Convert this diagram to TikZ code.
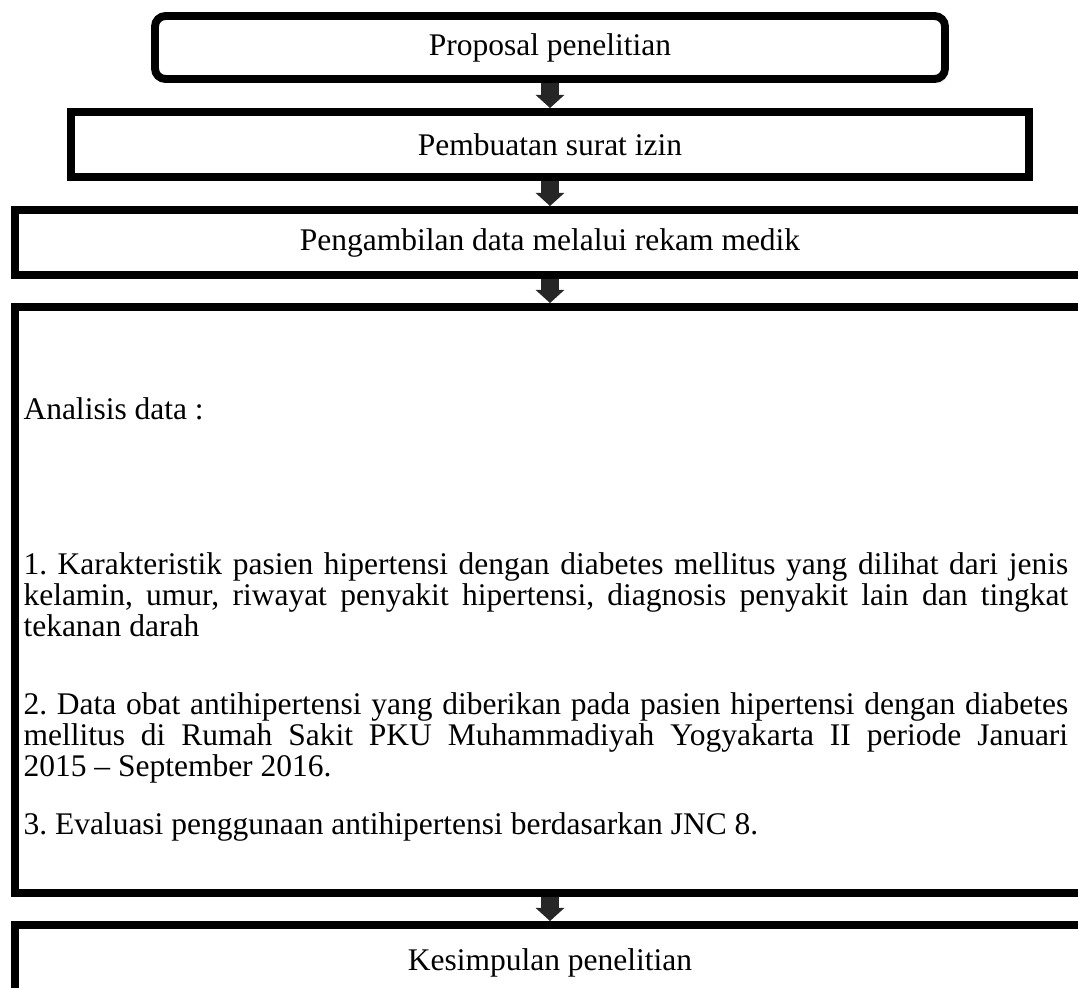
\documentclass[tikz,border=0pt]{standalone}
\usepackage{fontspec}
\setmainfont{Liberation Serif}
\usetikzlibrary{arrows.meta,shadows}
\frenchspacing

\begin{document}
\begin{tikzpicture}[
    x=0.381pt, y=-0.381pt,
    kotak/.style={rectangle, draw, line width=3pt, fill=white, text centered, font=\fontsize{12}{13.8}\selectfont,
      drop shadow={shadow xshift=1.2pt, shadow yshift=-1.5pt, opacity=0.2}},
    panah/.style={-{Triangle[width=10.7pt,length=5pt]}, line width=6.9pt, draw=black!85},
    isi/.style={anchor=north west, inner sep=0pt, text width=398pt, align=justify, font=\fontsize{12}{10.7}\selectfont}
  ]
  \clip (0,0) rectangle (1078,987);

  \node[kotak, rounded corners=4pt, minimum width=301pt, minimum height=24pt] (proposal) at (550,47.5) {Proposal penelitian};
  \node[kotak, minimum width=365pt, minimum height=24.8pt] (izin) at (550,144.5) {Pembuatan surat izin};
  \node[kotak, minimum width=407.7pt, minimum height=24.8pt] (rekam) at (550,242.5) {Pengambilan data melalui rekam medik};
  \node[kotak, minimum width=407.7pt, minimum height=223.3pt] (analisis) at (550,600) {};
  \node[kotak, minimum width=407.7pt, minimum height=28.6pt] (simpulan) at (550,962.5) {Kesimpulan penelitian};

  % isi kotak analisis data
  \node[isi] (judul) at (23,397.5) {Analisis data :};
  \node[isi] (poin1) at (23,552) {1. Karakteristik pasien hipertensi dengan diabetes mellitus yang dilihat dari jenis\linebreak
    kelamin, umur, riwayat penyakit hipertensi, diagnosis penyakit lain dan tingkat\linebreak
    tekanan darah};
  \node[isi] (poin2) at (23,692) {2. Data obat antihipertensi yang diberikan pada pasien hipertensi dengan diabetes\linebreak
    mellitus di Rumah Sakit PKU Muhammadiyah Yogyakarta II periode Januari\linebreak
    2015 – September 2016.};
  \node[isi] (poin3) at (23,812) {3. Evaluasi penggunaan antihipertensi berdasarkan JNC 8.};

  \draw[panah] (proposal) -- (izin);
  \draw[panah] (izin) -- (rekam);
  \draw[panah] (rekam) -- (analisis);
  \draw[panah] (analisis) -- (simpulan);
\end{tikzpicture}
\end{document}
